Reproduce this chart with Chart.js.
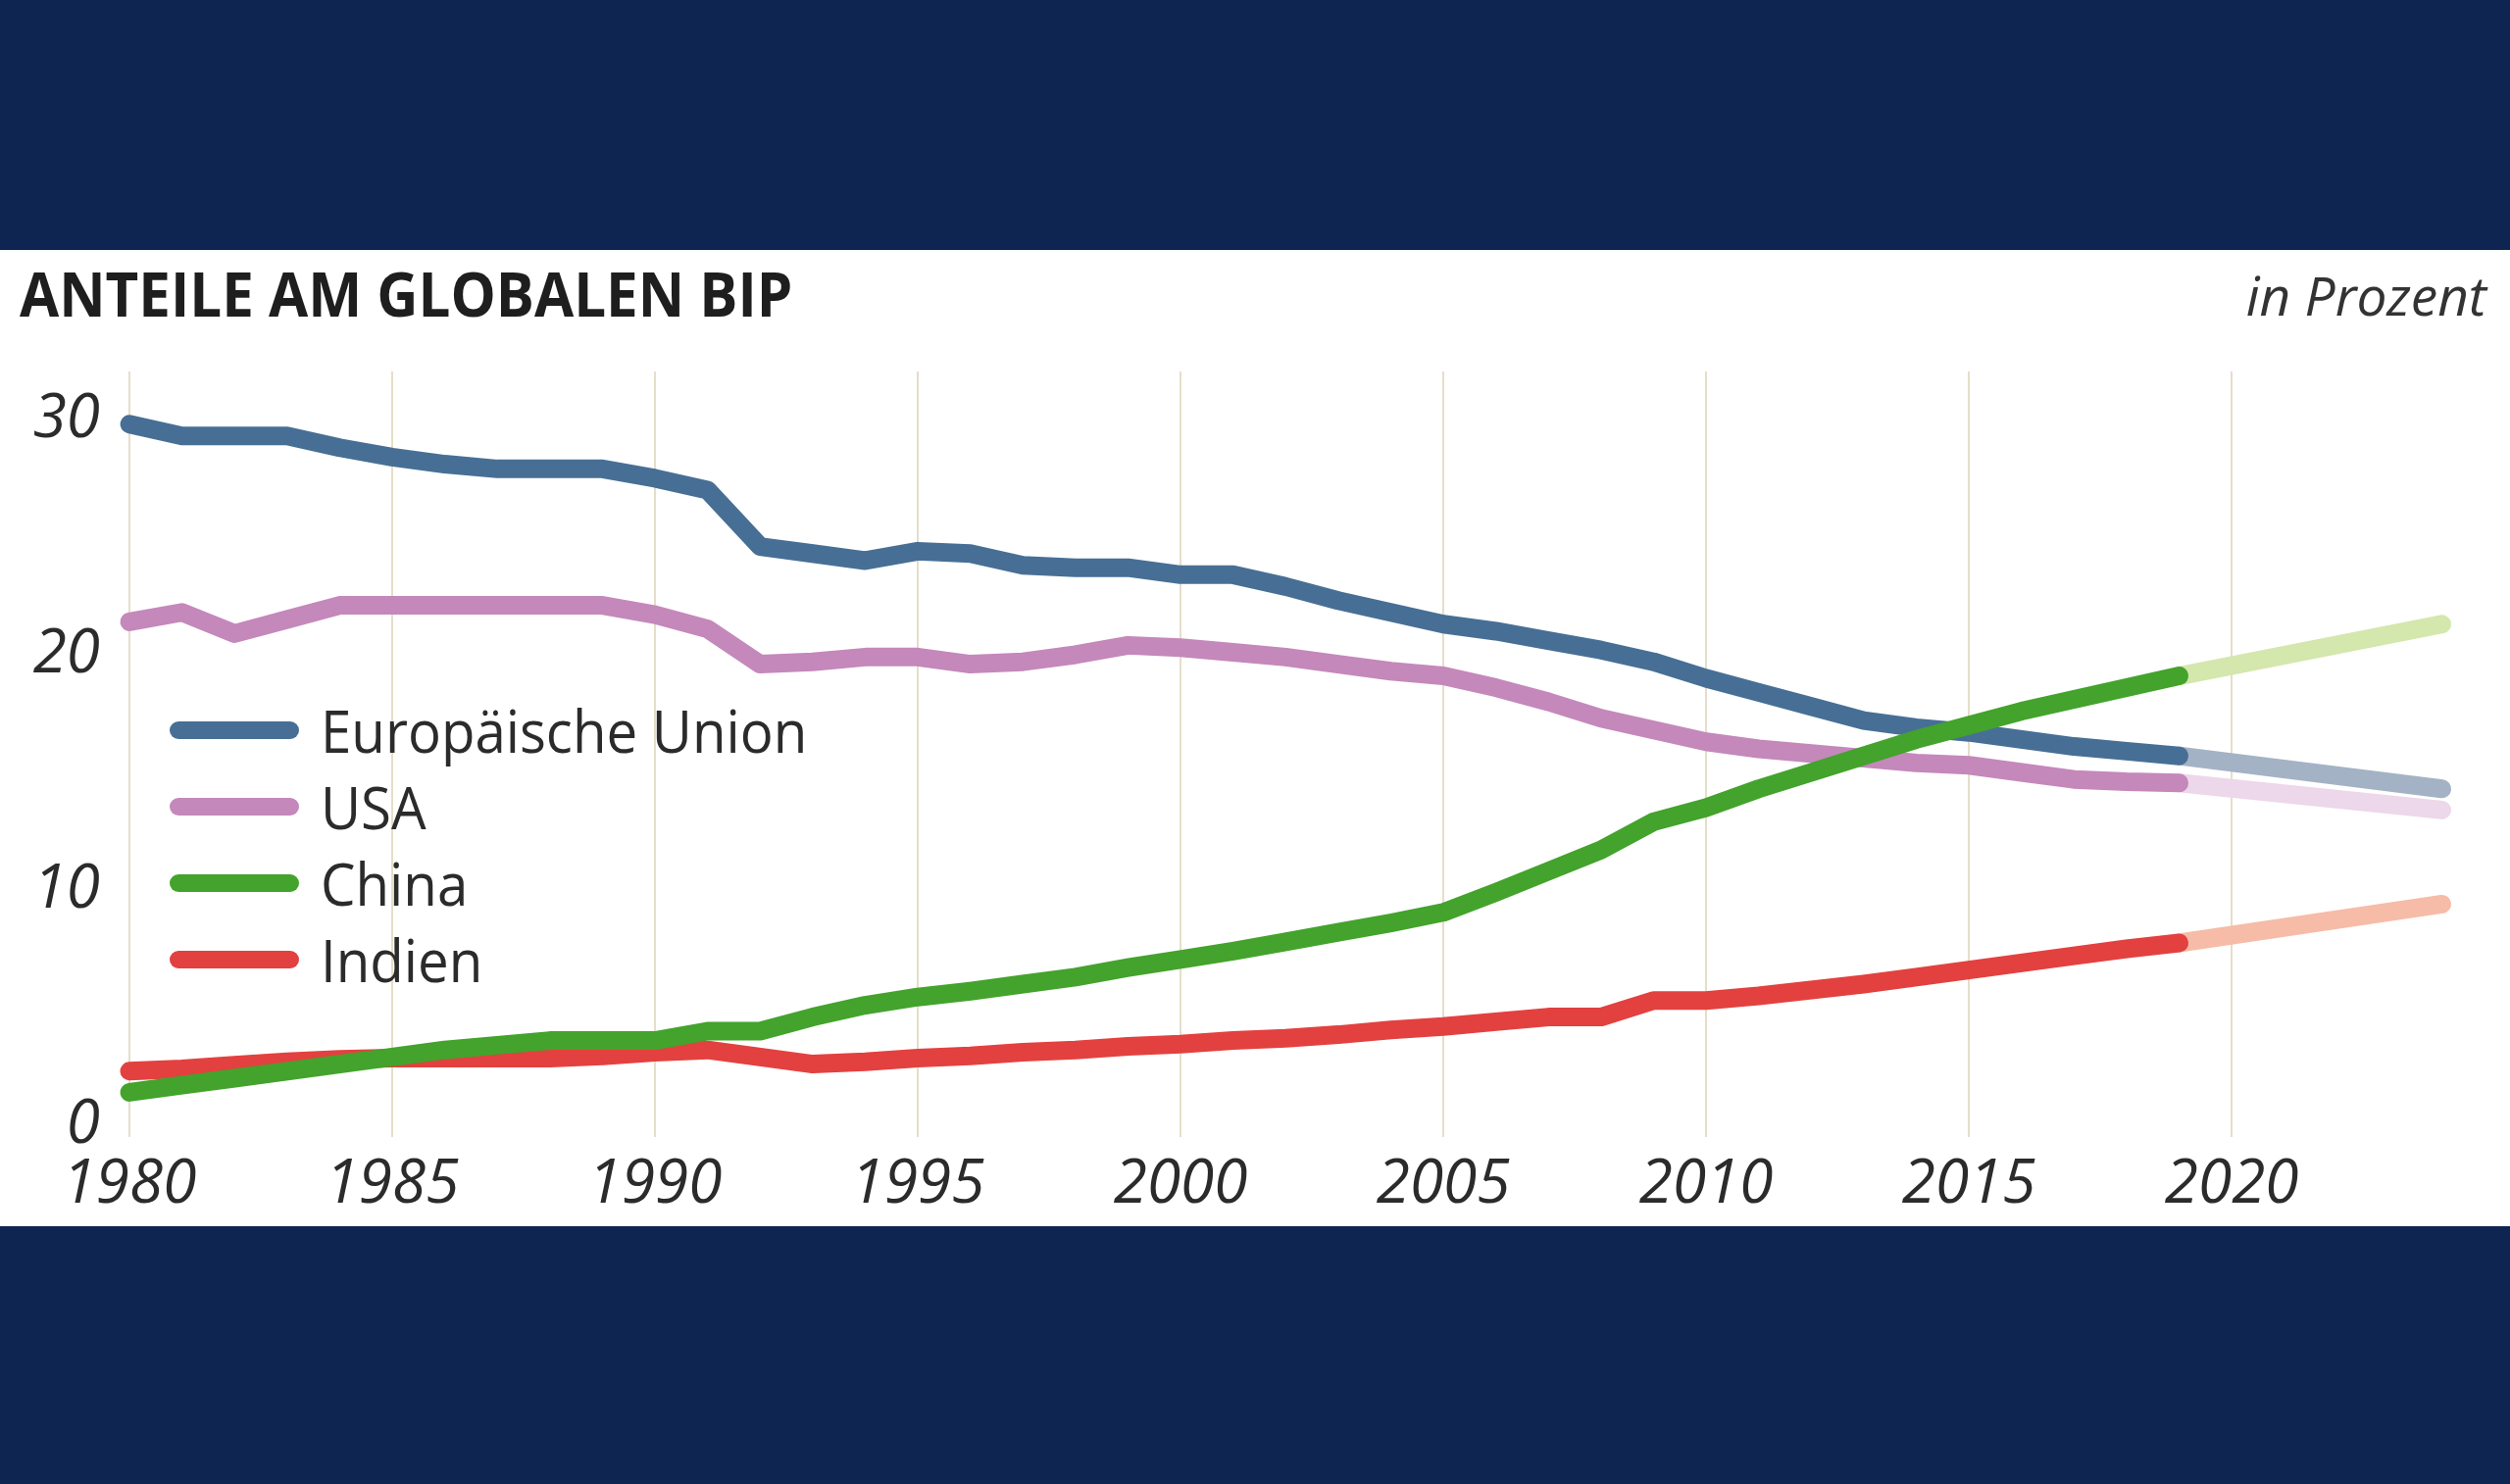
<!DOCTYPE html>
<html lang="de">
<head>
<meta charset="utf-8">
<title>Anteile am globalen BIP</title>
<script src="https://cdn.jsdelivr.net/npm/chart.js@4.4.1/dist/chart.umd.min.js"></script>
<style>
    html, body {
        margin: 0;
        padding: 0;
    }
    body {
        width: 2560px;
        height: 1514px;
        background: #0e2551;
        position: relative;
        overflow: hidden;
        font-family: 'Open Sans', sans-serif;
    }
    .panel {
        position: absolute;
        left: 0;
        top: 255px;
        width: 2560px;
        height: 996px;
        background: #ffffff;
    }
    .chart-wrap {
        position: absolute;
        left: 0;
        top: 0;
        width: 2560px;
        height: 996px;
    }
    .title {
        position: absolute;
        left: 20px;
        top: 13px;
        font-size: 62px;
        line-height: 1;
        font-weight: 700;
        color: #1e1e1e;
        transform: scaleX(0.94);
        transform-origin: left top;
        white-space: nowrap;
    }
    .unit {
        position: absolute;
        right: 24px;
        top: 18px;
        font-size: 55px;
        line-height: 1;
        font-style: italic;
        color: #333333;
        white-space: nowrap;
    }
    .legend {
        position: absolute;
        left: 173px;
        top: 451px;
    }
    .legend-row {
        display: flex;
        align-items: center;
        height: 78px;
    }
    .legend-line {
        width: 132px;
        height: 18px;
        border-radius: 9px;
        margin-right: 22px;
    }
    .legend-label {
        font-size: 60px;
        line-height: 1;
        color: #2b2b2b;
        white-space: nowrap;
        transform: scaleX(0.94);
        transform-origin: left center;
    }
</style>
</head>
<body>
<div class="panel">
    <div class="chart-wrap"><canvas id="gdpChart"></canvas></div>
    <div class="title">ANTEILE AM GLOBALEN BIP</div>
    <div class="unit">in Prozent</div>
    <div class="legend" id="legend"></div>
</div>

<script>
// Years with observed values
const years = [1980, 1981, 1982, 1983, 1984, 1985, 1986, 1987, 1988, 1989,
               1990, 1991, 1992, 1993, 1994, 1995, 1996, 1997, 1998, 1999,
               2000, 2001, 2002, 2003, 2004, 2005, 2006, 2007, 2008, 2009,
               2010, 2011, 2012, 2013, 2014, 2015, 2016, 2017, 2018, 2019];

// Share of global GDP, percent
const euValues = [29.8, 29.3, 29.3, 29.3, 28.8, 28.4, 28.1, 27.9, 27.9, 27.9,
                  27.5, 27.0, 24.6, 24.3, 24.0, 24.4, 24.3, 23.8, 23.7, 23.7,
                  23.4, 23.4, 22.9, 22.3, 21.8, 21.3, 21.0, 20.6, 20.2, 19.7,
                  19.0, 18.4, 17.8, 17.2, 16.9, 16.7, 16.4, 16.1, 15.9, 15.7];
const usaValues = [21.4, 21.8, 20.9, 21.5, 22.1, 22.1, 22.1, 22.1, 22.1, 22.1,
                   21.7, 21.1, 19.6, 19.7, 19.9, 19.9, 19.6, 19.7, 20.0, 20.4,
                   20.3, 20.1, 19.9, 19.6, 19.3, 19.1, 18.6, 18.0, 17.3, 16.8,
                   16.3, 16.0, 15.8, 15.6, 15.4, 15.3, 15.0, 14.7, 14.6, 14.55];
const chinaValues = [1.4, 1.7, 2.0, 2.3, 2.6, 2.9, 3.2, 3.4, 3.6, 3.6,
                     3.6, 4.0, 4.0, 4.6, 5.1, 5.45, 5.7, 6.0, 6.3, 6.7,
                     7.05, 7.4, 7.8, 8.2, 8.6, 9.05, 9.9, 10.8, 11.7, 12.9,
                     13.5, 14.3, 15.0, 15.7, 16.4, 17.0, 17.6, 18.1, 18.6, 19.1];
const indiaValues = [2.3, 2.4, 2.55, 2.7, 2.8, 2.85, 2.85, 2.85, 2.85, 2.95,
                     3.1, 3.2, 2.9, 2.6, 2.7, 2.85, 2.95, 3.1, 3.2, 3.35,
                     3.45, 3.6, 3.7, 3.85, 4.05, 4.2, 4.4, 4.6, 4.6, 5.3,
                     5.3, 5.5, 5.75, 6.0, 6.3, 6.6, 6.9, 7.2, 7.5, 7.75];

// Projection (IMF forecast)
const projYears = [2019, 2024];
const euProj = [15.7, 14.3];
const usaProj = [14.55, 13.4];
const chinaProj = [19.1, 21.3];
const indiaProj = [7.75, 9.4];

// Axis ticks
const xTickValues = [1980, 1985, 1990, 1995, 2000, 2005, 2010, 2015, 2020];
const yTickValues = [0, 10, 20, 30];

const seriesNames = ['Europäische Union', 'USA', 'China', 'Indien'];
const seriesColors = ['#476f95', '#c488bb', '#43a32c', '#e2413f'];
const projColors = ['#a4b2c5', '#edd7ea', '#d4e7ad', '#f6bca8'];

function toPoints(xs, ys) {
    return xs.map((x, i) => ({ x: x, y: ys[i] }));
}

function lineDataset(label, points, color, order) {
    return {
        label: label,
        data: points,
        borderColor: color,
        backgroundColor: color,
        borderWidth: 19,
        borderCapStyle: 'round',
        borderJoinStyle: 'round',
        pointRadius: 0,
        tension: 0,
        fill: false,
        clip: 20,
        order: order
    };
}

const observed = [euValues, usaValues, chinaValues, indiaValues];
const projected = [euProj, usaProj, chinaProj, indiaProj];
// lower order is drawn on top
const drawOrder = [3, 4, 1, 2];

const datasets = [];
observed.forEach((vals, i) => {
    datasets.push(lineDataset(seriesNames[i], toPoints(years, vals), seriesColors[i], drawOrder[i]));
});
projected.forEach((vals, i) => {
    datasets.push(lineDataset(seriesNames[i] + ' Prognose', toPoints(projYears, vals), projColors[i], drawOrder[i] + 4));
});

// Legend (HTML)
const legendEl = document.getElementById('legend');
seriesNames.forEach((name, i) => {
    legendEl.innerHTML += `
        <div class="legend-row">
            <div class="legend-line" style="background:${seriesColors[i]}"></div>
            <div class="legend-label">${name}</div>
        </div>`;
});

const tickFont = { family: "'Open Sans', sans-serif", size: 62, style: 'italic' };

const ctx = document.getElementById('gdpChart').getContext('2d');
new Chart(ctx, {
    type: 'line',
    data: { datasets: datasets },
    options: {
        responsive: true,
        maintainAspectRatio: false,
        animation: false,
        layout: {
            padding: { top: 124, right: 48, left: 0, bottom: 0 }
        },
        plugins: {
            legend: { display: false },
            tooltip: { enabled: false }
        },
        scales: {
            x: {
                type: 'linear',
                min: 1980,
                max: 2024.4,
                grid: { display: true, color: '#e5dec9', lineWidth: 2, drawTicks: false },
                border: { display: false },
                afterBuildTicks: (scale) => {
                    scale.ticks = xTickValues.map(v => ({ value: v }));
                },
                afterFit: (scale) => { scale.height = 91; },
                ticks: {
                    color: '#2b2b2b',
                    font: tickFont,
                    padding: 12,
                    maxRotation: 0,
                    autoSkip: false,
                    callback: (v) => String(v)
                }
            },
            y: {
                min: -0.5,
                max: 32.04,
                grid: { display: false, drawTicks: false },
                border: { display: false },
                afterBuildTicks: (scale) => {
                    scale.ticks = yTickValues.map(v => ({ value: v }));
                },
                afterFit: (scale) => { scale.width = 132; },
                ticks: {
                    color: '#2b2b2b',
                    font: tickFont,
                    padding: 30,
                    callback: (v) => String(v)
                }
            }
        }
    }
});
</script>
</body>
</html>
